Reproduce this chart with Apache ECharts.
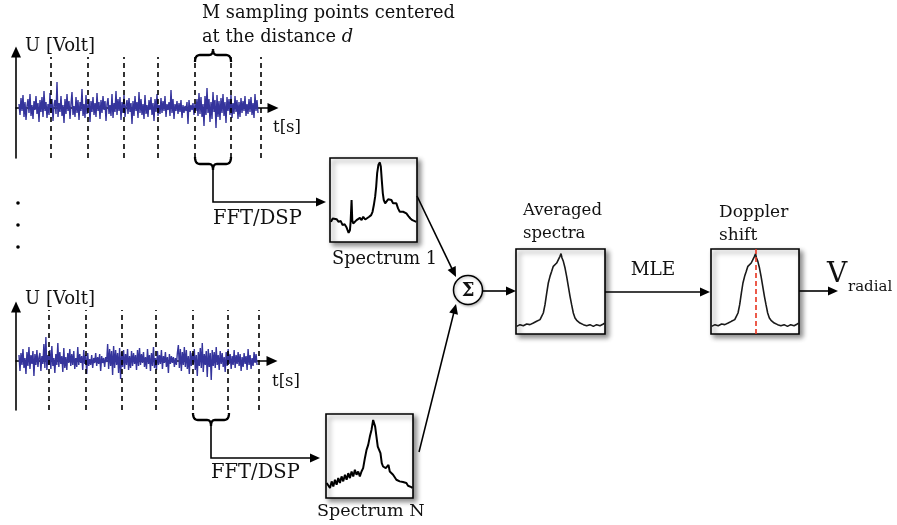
<!DOCTYPE html>
<html><head><meta charset="utf-8">
<script src="https://cdn.jsdelivr.net/npm/echarts@6/dist/echarts.min.js"></script>
<style>html,body{margin:0;padding:0;background:#fff}#c{width:897px;height:525px}</style>
</head><body><div id="c"></div>
<script>
// ---- data ----
const signalTop = [
4,-7,10,-3,13,-9,6,-12,2,9,-5,14,-8,3,-11,7,-2,12,-6,5,
-14,8,-4,11,-9,17,-3,6,-10,4,-7,15,-5,9,-13,3,8,-6,26,-9,
5,-4,12,-8,3,-15,9,-6,14,-3,7,-11,4,16,-7,2,-9,11,-5,8,
-12,6,-3,19,-8,4,-10,13,-6,2,9,-14,7,-4,11,-7,5,-9,15,-3,
6,-11,8,-5,12,-2,7,-13,4,10,-6,3,-8,14,-10,5,-4,17,-7,9,
-3,11,-12,6,-5,13,-9,2,8,-6,10,-4,5,-16,7,-8,12,-3,6,-10,
16,-5,9,-7,4,-11,13,-6,3,-9,8,-2,11,-7,5,-13,9,-4,14,-8,
3,-6,10,-5,7,-3,12,-9,4,-2,6,-8,18,-5,9,-11,4,-3,7,-6,
5,-4,8,-10,3,-5,2,-3,6,-16,8,-4,3,-2,5,-7,4,-3,9,-8,
15,-6,11,-9,4,-18,12,-7,20,-5,9,-14,6,-11,16,-4,8,-20,13,-9,
7,-12,10,-5,14,-8,6,-15,11,-3,9,-7,13,-10,5,-6,12,-4,8,-11,
6,-9,10,-5,7,-3,12,-8,4,-6,9,-4,11,-7,5,-10,14,-3,8,-5];
const signalBottom = [
6,-10,8,-4,12,-7,3,-13,9,-5,14,-8,6,-3,10,-15,7,-4,11,-6,
3,8,-10,5,-3,17,-7,24,-9,6,-4,11,-8,15,-5,3,-12,7,-4,18,
-6,9,-3,5,-11,13,-7,4,-9,8,-2,12,-5,7,-4,10,-8,3,-6,14,
-4,7,-2,5,-9,11,-3,6,-13,8,-5,2,-4,6,-7,3,-2,8,-5,4,
-3,7,-10,5,-2,3,-6,4,-1,17,-8,12,-5,10,-14,15,-7,11,-4,8,
-12,13,-18,9,-6,11,-8,7,-4,12,-9,5,-7,10,-5,8,-3,6,-9,11,
-5,13,-4,7,-2,9,-6,4,-8,12,-3,6,-10,8,-5,14,-7,3,-9,10,
-4,6,-3,11,-8,5,-2,9,-6,4,-12,7,-3,5,-2,4,-6,3,-4,8,
16,-7,12,-10,9,-4,14,-6,11,-8,5,-13,10,-5,8,-3,12,-9,6,-15,
9,-5,13,-7,18,-11,7,-4,10,-16,12,-6,8,-19,11,-5,9,-7,14,-4,
6,-9,10,-3,8,-6,4,-11,9,-5,12,-3,7,-8,5,-4,11,-7,6,-3,
9,-5,7,-10,4,-6,8,-3,5,-9,12,-4,6,-8,3,-5,9,-2,7,-4];
const marksTop = [32, 69, 105, 139, 176, 211.5, 242];
const marksBottom = [30.3, 67, 103.3, 137.7, 174.3, 209.7, 241];
const spectrum1 = [[1.1,24],[3.1,28],[5.3,26],[7.6,27.2],[9.9,24],[12.2,25.2],[14.5,20],[16.8,21.2],[19.1,17.2],[21.4,10.8],[22.9,14],[23.7,24],[24.8,50],[25.6,26],[26.7,22],[28.6,24],[30.5,26],[32.4,24],[34.4,28.8],[36.3,26],[38.2,30],[40.5,26.8],[42.7,28.8],[45.0,30],[47.3,32],[48.9,36],[50.4,44],[51.9,54],[53.1,66],[54.2,82],[55.7,92],[57.3,94.8],[58.4,90],[59.5,74],[60.7,58],[61.8,50],[63.4,46],[64.9,48],[66.8,50.8],[68.7,52],[70.6,50],[72.5,46],[74.4,44],[76.3,46],[78.2,40],[80.2,36],[82.1,34],[84.0,36],[85.9,38],[87.8,34],[90.1,30.8],[92.4,28],[94.7,26],[96.9,25.2],[99.2,24]];
const spectrumN = [[0.8,17.8],[2.7,19.8],[4.6,11.9],[6.5,19.8],[8.4,13.8],[10.3,21.7],[12.2,15.8],[14.1,23.7],[16.0,17.8],[17.9,25.7],[19.8,19.8],[21.8,27.7],[23.7,21.7],[25.6,29.6],[27.5,23.7],[29.4,31.6],[31.3,25.7],[33.2,33.6],[35.1,27.7],[37.0,31.6],[38.9,25.7],[40.8,31.6],[42.7,35.6],[44.7,47.4],[46.6,57.3],[48.5,63.2],[50.4,73.1],[52.3,81.0],[54.2,92.9],[55.3,94.9],[56.5,85.0],[58.0,73.1],[59.5,61.3],[61.1,59.3],[62.6,53.4],[64.1,41.5],[65.6,37.5],[67.2,39.5],[68.7,35.6],[70.2,33.6],[71.8,39.5],[73.3,31.6],[75.2,33.6],[77.1,27.7],[79.0,25.7],[80.9,21.7],[82.8,22.5],[84.7,19.8],[86.6,17.8],[88.5,19.0],[90.5,17.0],[92.4,17.8],[94.3,14.6],[96.2,13.8],[98.1,13.0],[99.2,11.9]];
const averagedSpectrum = [[0.7,9.0],[4.5,11.0],[8.2,9.8],[12.0,11.8],[15.7,11.0],[19.5,12.9],[23.2,14.9],[27.0,16.9],[28.8,20.8],[30.7,24.7],[32.6,34.5],[34.5,48.2],[36.3,60.0],[38.2,67.8],[40.1,73.7],[41.9,79.6],[43.8,81.6],[45.7,83.5],[47.6,85.5],[49.4,91.4],[50.6,94.5],[51.7,89.4],[53.2,85.5],[55.1,77.6],[56.9,67.8],[58.8,56.1],[60.7,44.3],[62.5,34.5],[64.4,24.7],[66.3,18.8],[68.2,16.1],[71.9,12.9],[75.7,11.0],[79.4,9.8],[83.1,11.0],[86.9,9.0],[90.6,11.0],[94.4,9.8],[98.1,11.8],[99.6,12.9]];
const dopplerPeak = 50.6;

// ---- helpers ----
const SERIF = '"DejaVu Serif", "Liberation Serif", serif';
function txt(x, y, text, size, align, extra) {
  return { type: 'text', x: x, y: y, z: 100, silent: true,
    style: Object.assign({ text: text, font: size + 'px ' + SERIF, fill: '#111',
      align: align || 'left', textAlign: align || 'left', verticalAlign: 'middle', textVerticalAlign: 'middle' }, extra || {}) };
}
function head(x1, y1, x2, y2) {
  const a = Math.atan2(y2 - y1, x2 - x1), L = 10, W = 4.5;
  const bx = x2 - L * Math.cos(a), by = y2 - L * Math.sin(a);
  const px = -Math.sin(a) * W, py = Math.cos(a) * W;
  return { type: 'polygon', z: 100, silent: true, shape: { points: [[x2, y2], [bx + px, by + py], [bx - px, by - py]] }, style: { fill: '#000' } };
}
function arrowPath(points) {
  const n = points.length, p1 = points[n - 2], p2 = points[n - 1];
  const a = Math.atan2(p2[1] - p1[1], p2[0] - p1[0]);
  const pts = points.slice(0, n - 1).concat([[p2[0] - 8 * Math.cos(a), p2[1] - 8 * Math.sin(a)]]);
  return [
    { type: 'polyline', z: 100, silent: true, shape: { points: pts }, style: { stroke: '#000', lineWidth: 1.6, fill: null } },
    head(p1[0], p1[1], p2[0], p2[1])
  ];
}
function quad(p0, c, p1, out) {
  for (let k = 1; k <= 8; k++) {
    const t = k / 8, u = 1 - t;
    out.push([u * u * p0[0] + 2 * u * t * c[0] + t * t * p1[0], u * u * p0[1] + 2 * u * t * c[1] + t * t * p1[1]]);
  }
}
function brace(x1, x2, y0, dir) { // dir -1: tip up, +1: tip down
  const xm = (x1 + x2) / 2, yh = y0 + 7 * dir, yt = y0 + 13 * dir;
  const pts = [[x1, y0]];
  quad([x1, y0], [x1, yh], [x1 + 5, yh], pts);
  pts.push([xm - 4, yh]);
  quad([xm - 4, yh], [xm, yh], [xm, yt], pts);
  quad([xm, yt], [xm, yh], [xm + 4, yh], pts);
  pts.push([x2 - 5, yh]);
  quad([x2 - 5, yh], [x2, yh], [x2, y0], pts);
  return { type: 'polyline', z: 100, silent: true, shape: { points: pts }, style: { stroke: '#000', lineWidth: 2.3, fill: null } };
}

const boxGrid = { show: true, backgroundColor: '#fff', borderColor: '#000', borderWidth: 1.6,
  shadowColor: 'rgba(0,0,0,0.45)', shadowBlur: 5, shadowOffsetX: 3, shadowOffsetY: 3 };

function sigX(idx) {
  return { gridIndex: idx, type: 'value', min: -3, max: 254,
    axisLine: { show: true, onZero: true, symbol: ['none', 'triangle'], symbolSize: [10, 11], lineStyle: { color: '#000', width: 1.6 } },
    axisTick: { show: false }, axisLabel: { show: false }, splitLine: { show: false } };
}
function sigY(idx, mn, mx) {
  return { gridIndex: idx, type: 'value', min: mn, max: mx,
    axisLine: { show: true, onZero: false, symbol: ['none', 'triangle'], symbolSize: [10, 11], lineStyle: { color: '#000', width: 1.6 } },
    axisTick: { show: false }, axisLabel: { show: false }, splitLine: { show: false } };
}
function boxAxis(idx) { return { gridIndex: idx, type: 'value', min: 0, max: 100, show: false }; }

function sigSeries(idx, data, marks, lo, hi) {
  return { type: 'line', xAxisIndex: idx, yAxisIndex: idx, showSymbol: false, silent: true,
    data: data.map((v, i) => [i, v]), lineStyle: { color: '#35349c', width: 1.4 },
    markLine: { silent: true, symbol: ['none', 'none'], label: { show: false },
      lineStyle: { color: '#000', width: 1.6, type: [5, 4] },
      data: marks.map(m => [{ coord: [m, lo] }, { coord: [m, hi] }]) } };
}
function specSeries(idx, data, w, color) {
  return { type: 'line', xAxisIndex: idx, yAxisIndex: idx, showSymbol: false, silent: true,
    data: data, lineStyle: { color: color, width: w } };
}

const series = [
  sigSeries(0, signalTop, marksTop, -50, 51),
  sigSeries(1, signalBottom, marksBottom, -49, 51),
  specSeries(2, spectrum1, 2, '#000'),
  specSeries(3, spectrumN, 2, '#000'),
  specSeries(4, averagedSpectrum, 1.6, '#1a1a1a'),
  Object.assign(specSeries(5, averagedSpectrum, 1.6, '#1a1a1a'), {
    markLine: { silent: true, symbol: ['none', 'none'], label: { show: false },
      lineStyle: { color: '#e8321e', width: 1.6, type: [5, 3] }, data: [{ xAxis: dopplerPeak }] } })
];

const graphic = [].concat(
  [txt(202, 13, 'M sampling points centered', 17.8),
   txt(202, 37, 'at the distance {i|d}', 17.8, 'left', { rich: { i: { fontStyle: 'italic', font: 'italic 17.8px ' + SERIF, fill: '#111' } } }),
   txt(25, 46, 'U [Volt]', 18), txt(25, 299, 'U [Volt]', 18),
   txt(273, 128, 't[s]', 16.5), txt(272, 382, 't[s]', 16.5),
   txt(213, 219, 'FFT/DSP', 19.5), txt(211, 473, 'FFT/DSP', 19.5),
   txt(332, 259, 'Spectrum 1', 17.8), txt(317, 511, 'Spectrum N', 17.5),
   txt(523, 211, 'Averaged', 16.5), txt(523, 234, 'spectra', 16.5),
   txt(653, 270, 'MLE', 18.5, 'center'),
   txt(719, 213, 'Doppler', 17), txt(719, 236, 'shift', 17),
   txt(827, 275, 'V', 28), txt(848, 287, 'radial', 15),
   { type: 'circle', z: 99, silent: true, shape: { cx: 468, cy: 290, r: 14.5 }, style: { fill: '#fff', stroke: '#000', lineWidth: 1.5, shadowBlur: 3, shadowColor: 'rgba(0,0,0,0.3)', shadowOffsetX: 1, shadowOffsetY: 1 } },
   txt(468, 291, 'Σ', 18, 'center', { font: 'bold 18px ' + SERIF }),
   { type: 'circle', z: 100, silent: true, shape: { cx: 18, cy: 203, r: 1.8 }, style: { fill: '#000' } },
   { type: 'circle', z: 100, silent: true, shape: { cx: 18, cy: 225, r: 1.8 }, style: { fill: '#000' } },
   { type: 'circle', z: 100, silent: true, shape: { cx: 18, cy: 247, r: 1.8 }, style: { fill: '#000' } },
   brace(195, 231, 62, -1), brace(195, 231, 157, 1), brace(193, 229, 413, 1)],
  arrowPath([[213, 170], [213, 202], [326, 202]]),
  arrowPath([[211, 426], [211, 458], [320, 458]]),
  arrowPath([[417, 196], [456, 277]]),
  arrowPath([[419, 452], [456, 304]]),
  arrowPath([[482, 291], [516, 291]]),
  arrowPath([[605, 292], [710, 292]]),
  arrowPath([[799, 291], [838, 291]])
);

const chart = echarts.init(document.getElementById('c'), null, { renderer: 'canvas' });
chart.setOption({
  animation: false,
  backgroundColor: '#fff',
  grid: [
    { left: 16, top: 52, width: 257, height: 106 },
    { left: 16, top: 307, width: 256, height: 103 },
    Object.assign({ left: 330, top: 158, width: 87, height: 84 }, boxGrid),
    Object.assign({ left: 326, top: 414, width: 87, height: 84 }, boxGrid),
    Object.assign({ left: 516, top: 249, width: 89, height: 85 }, boxGrid),
    Object.assign({ left: 711, top: 249, width: 88, height: 85 }, boxGrid)
  ],
  xAxis: [sigX(0), sigX(1), boxAxis(2), boxAxis(3), boxAxis(4), boxAxis(5)],
  yAxis: [sigY(0, -50, 56), sigY(1, -49, 54), boxAxis(2), boxAxis(3), boxAxis(4), boxAxis(5)],
  series: series,
  graphic: graphic
});
</script>
</body></html>
